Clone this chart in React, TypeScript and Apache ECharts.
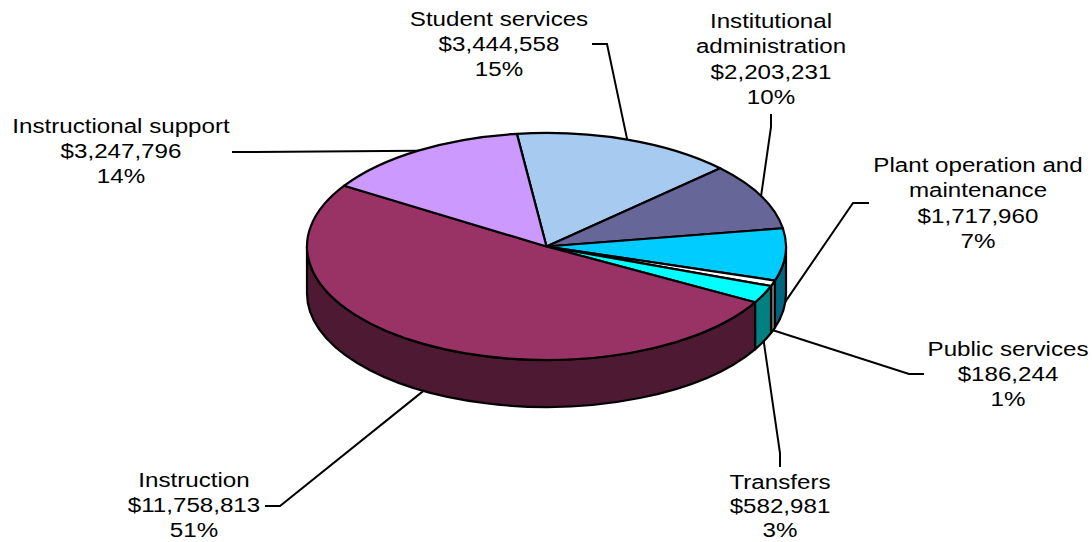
import React, { useEffect, useRef } from "react";
import * as echarts from "echarts";

const categories = [
  "Student services",
  "Institutional\nadministration",
  "Plant operation and\nmaintenance",
  "Public services",
  "Transfers",
  "Instruction",
  "Instructional support",
];
const amounts = [3444558, 2203231, 1717960, 186244, 582981, 11758813, 3247796];
const topColors = ["#A6CAF0", "#666699", "#00CCFF", "#FFFFFF", "#00FFFF", "#993366", "#CC99FF"];
const wallColors = ["#536578", "#33334D", "#006680", "#808080", "#008080", "#4D1933", "#664D80"];

// Text block centres and the elbow of each leader line, in slice order.
const labelCenters = [
  [499, 44],
  [771, 59],
  [978, 203],
  [1008, 374],
  [780, 506],
  [194, 505],
  [121, 151],
];
const labelLineHeights = [25, 25.4, 25.4, 25, 24, 25, 25];
const leaderStarts = [
  [592, 44],
  [771, 114],
  [869, 203],
  [924, 374],
  [780, 467],
  [265, 506],
  [232, 152],
];
const leaderElbows = [
  [607, 44],
  [771, 127],
  [853, 203],
  [909, 374],
  [780, 453],
  [280, 506],
  [247, 152],
];

const CX = 546.5;
const CY = 246.5;
const RX = 239.5;
const RY = 113.5;
const DEPTH = 47;
const START_ANGLE = -7.1;

const total = amounts.reduce((a, b) => a + b, 0);
const spans = amounts.map((v) => (v / total) * 360);
const starts = spans.map((_, i) => START_ANGLE + spans.slice(0, i).reduce((a, b) => a + b, 0));

const rim = (deg: number, drop = 0): [number, number] => {
  const t = (deg * Math.PI) / 180;
  return [CX + RX * Math.sin(t), CY - RY * Math.cos(t) + drop];
};

const topPath = (a: number, b: number) => {
  const [x0, y0] = rim(a);
  const [x1, y1] = rim(b);
  return `M${CX} ${CY}L${x0} ${y0}A${RX} ${RY} 0 ${b - a > 180 ? 1 : 0} 1 ${x1} ${y1}Z`;
};

const wallPath = (a: number, b: number) => {
  const [x0, y0] = rim(a);
  const [x1, y1] = rim(b);
  const [x2, y2] = rim(b, DEPTH);
  const [x3, y3] = rim(a, DEPTH);
  return `M${x0} ${y0}A${RX} ${RY} 0 0 1 ${x1} ${y1}L${x2} ${y2}A${RX} ${RY} 0 0 0 ${x3} ${y3}Z`;
};

const OUTLINE = { stroke: "#000000", lineWidth: 2.2, lineJoin: "round" };

const renderSlice = (params: any, api: any) => {
  const i = params.dataIndex;
  const a = starts[i];
  const b = a + (api.value(0) / total) * 360;
  const children: any[] = [];
  const wallFrom = Math.max(a, 90);
  const wallTo = Math.min(b, 270);
  if (wallTo > wallFrom) {
    children.push({
      type: "path",
      shape: { pathData: wallPath(wallFrom, wallTo) },
      style: { fill: wallColors[i], ...OUTLINE },
    });
  }
  children.push({
    type: "path",
    shape: { pathData: topPath(a, b) },
    style: { fill: topColors[i], ...OUTLINE },
  });
  return { type: "group", children };
};

const renderCallout = (params: any, api: any) => {
  const i = params.dataIndex;
  const value = api.value(0);
  const mid = starts[i] + spans[i] / 2;
  const facingViewer = Math.cos((mid * Math.PI) / 180) < 0;
  const anchor = rim(mid, facingViewer ? DEPTH : 0);
  const text = `${categories[i]}\n$${value.toLocaleString("en-US")}\n${Math.round((value / total) * 100)}%`;
  return {
    type: "group",
    children: [
      {
        type: "polyline",
        shape: { points: [leaderStarts[i], leaderElbows[i], anchor] },
        style: { fill: "none", stroke: "#000000", lineWidth: 2 },
      },
      {
        type: "text",
        x: labelCenters[i][0],
        y: labelCenters[i][1],
        scaleX: 1.15,
        style: {
          text,
          x: 0,
          y: 0,
          fill: "#000000",
          font: '21px "Liberation Sans", Arial, sans-serif',
          lineHeight: labelLineHeights[i],
          align: "center",
          verticalAlign: "middle",
        },
      },
    ],
  };
};

export default function App() {
  const ref = useRef<HTMLDivElement>(null);

  useEffect(() => {
    document.body.style.margin = "0";
    const chart = echarts.init(ref.current!, undefined, { renderer: "svg" });
    chart.setOption({
      animation: false,
      backgroundColor: "#FFFFFF",
      series: [
        {
          type: "custom",
          coordinateSystem: "none",
          silent: true,
          z: 1,
          data: amounts,
          renderItem: renderCallout,
        },
        {
          type: "custom",
          coordinateSystem: "none",
          silent: true,
          z: 2,
          data: amounts,
          renderItem: renderSlice,
        },
      ],
    });
    return () => chart.dispose();
  }, []);

  return <div ref={ref} style={{ width: 1092, height: 542 }} />;
}
